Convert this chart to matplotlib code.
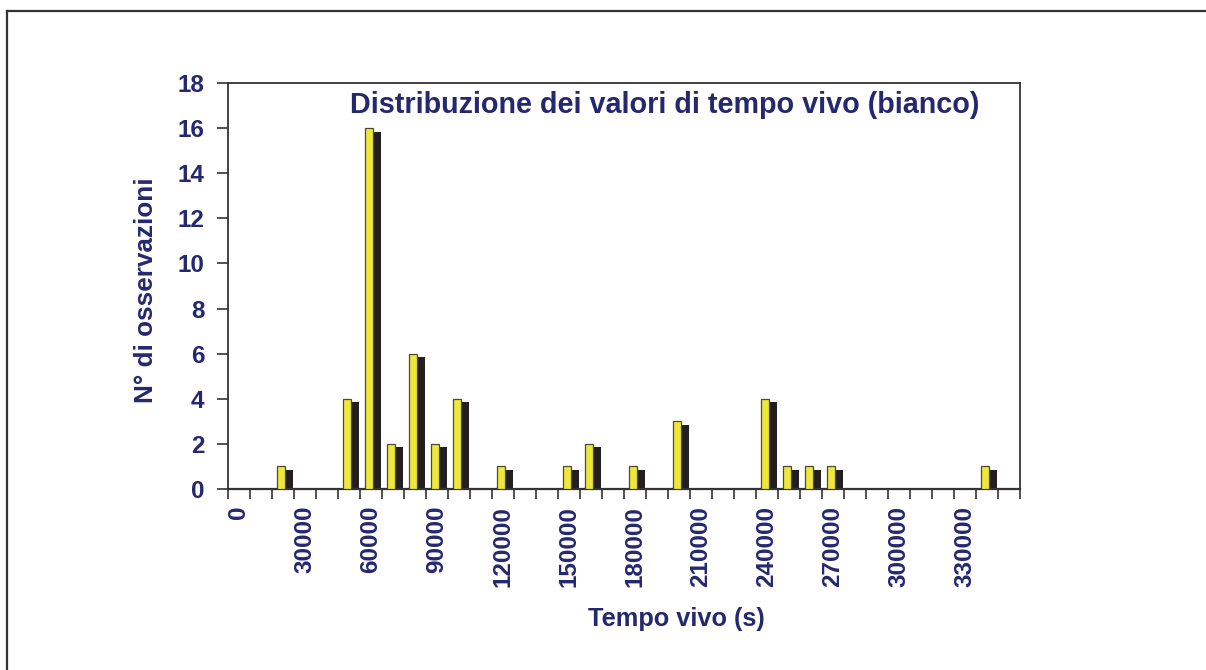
import matplotlib
matplotlib.use("Agg")
import matplotlib.pyplot as plt
import matplotlib.transforms as mtransforms
from matplotlib.lines import Line2D

# ---- data ----
categories = list(range(0, 360000, 10000))   # 0 .. 350000 step 10000
counts = [0, 0, 1, 0, 0, 4, 16, 2, 6, 2,
          4, 0, 1, 0, 0, 1, 2, 0, 1, 0,
          3, 0, 0, 0, 4, 1, 1, 1, 0, 0,
          0, 0, 0, 0, 1, 0]
tick_labels = [str(v) for v in range(0, 360000, 30000)]  # every 3rd category
title = "Distribuzione dei valori di tempo vivo (bianco)"
xlabel = "Tempo vivo (s)"
ylabel = "N° di osservazioni"

NAVY = "#25286e"
YELLOW = "#efe83c"
SHADOW = "#231f20"
FONT = "Liberation Sans"

fig = plt.figure(figsize=(12.06, 6.70), dpi=100)
W, H = 1206, 670
ax = fig.add_axes([228 / W, 1 - 489 / H, 792 / W, 406 / H])

x = list(range(len(categories)))
xb = [i - 0.07 for i in x]
bw = 0.365

shadow_tr = mtransforms.offset_copy(ax.transData, fig=fig, x=8, y=-3.5, units="dots")
ax.bar(xb, counts, width=bw, color=SHADOW, edgecolor="none",
       transform=shadow_tr, zorder=2)
ax.bar(xb, counts, width=bw, color=YELLOW, edgecolor="#4b4a32",
       linewidth=0.9, zorder=3)

ax.set_xlim(-0.5, len(categories) - 0.5)
ax.set_ylim(0, 18)
ax.set_yticks(range(0, 19, 2))
ax.tick_params(axis="y", direction="out", length=8, width=1.2, color="#333333",
               labelsize=17.5, labelcolor=NAVY, pad=9)
for lab in ax.get_yticklabels():
    lab.set_fontfamily(FONT)
    lab.set_fontweight("bold")

# category boundary ticks
ax.set_xticks([i - 0.5 for i in range(len(categories) + 1)])
ax.set_xticklabels([])
ax.tick_params(axis="x", which="major", direction="out", length=7, width=1.2,
               color="#333333")
# labels at every third category
ax.set_xticks(list(range(0, len(categories), 3)), minor=True)
ax.set_xticklabels(tick_labels, minor=True, rotation=90, fontsize=17.5,
                   color=NAVY, fontfamily=FONT, fontweight="bold",
                   ha="center", va="top")
ax.tick_params(axis="x", which="minor", length=0, pad=12)

for s in ax.spines.values():
    s.set_color("#333333")
    s.set_linewidth(1.3)
ax.spines["bottom"].set_linewidth(1.6)

fig.text(350 / W, 1 - 105 / H, title, fontsize=20.7,
         color=NAVY, fontfamily=FONT, fontweight="bold", ha="left", va="center")
fig.text(676 / W, 1 - 619 / H, xlabel, fontsize=18.3, color=NAVY,
         fontfamily=FONT, fontweight="bold", ha="center", va="center")
fig.text(146 / W, 1 - 290 / H, ylabel, fontsize=18.8, color=NAVY, rotation=90,
         fontfamily=FONT, fontweight="bold", ha="center", va="center")

# outer border (top and left)
fig.add_artist(Line2D([7 / W, 1.0], [1 - 11 / H, 1 - 11 / H],
                      transform=fig.transFigure, color="#333333", linewidth=1.6))
fig.add_artist(Line2D([7 / W, 7 / W], [1 - 11 / H, 0.0],
                      transform=fig.transFigure, color="#333333", linewidth=1.6))

fig.savefig("out.png", dpi=100)
